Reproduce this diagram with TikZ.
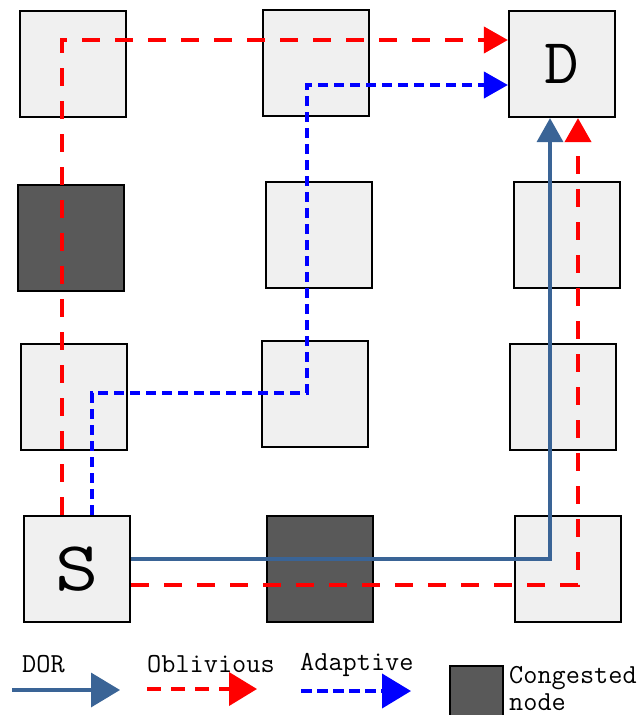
\documentclass[tikz,border=0pt]{standalone}
\usepackage{fontspec}
\usetikzlibrary{arrows.meta}
\definecolor{boxfill}{HTML}{F0F0F0}
\definecolor{congest}{HTML}{595959}
\definecolor{dorblue}{HTML}{3A6496}
\tikzset{
  x=1pt, y=-1pt,
  rbox/.style={draw=black, line width=2.2pt, fill=boxfill, minimum width=106pt, minimum height=106pt, inner sep=0pt},
  cbox/.style={rbox, fill=congest},
  dor/.style={draw=dorblue, line width=3.5pt, -{Triangle[width=26pt,length=24pt]}},
  obl/.style={draw=red, line width=4pt, dash pattern=on 18pt off 15pt, -{Triangle[width=26pt,length=24pt]}},
  ada/.style={draw=blue, line width=4pt, dash pattern=on 10pt off 6pt, -{Triangle[width=26pt,length=24pt]}},
  legtxt/.style={font=\ttfamily\fontsize{27.5}{30}\selectfont, inner sep=0pt, anchor=base west}
}
\begin{document}
\begin{tikzpicture}
\useasboundingbox (0,0) rectangle (640,715);
% row 1
\node[rbox] (n11) at (73,64) {};
\node[rbox] (n12) at (316,63) {};
\node[rbox] (D) at (562,64) {};
% row 2
\node[cbox] (n21) at (71,238) {};
\node[rbox] (n22) at (319,235) {};
\node[rbox] (n23) at (567,235) {};
% row 3
\node[rbox] (n31) at (74,397) {};
\node[rbox] (n32) at (315,394) {};
\node[rbox] (n33) at (563,397) {};
% row 4
\node[rbox] (S) at (77,569) {};
\node[cbox] (n42) at (320,569) {};
\node[rbox] (n43) at (568,569) {};
% labels
\node[inner sep=0pt] (Dl) at (D.center) {\ttfamily\fontsize{64}{64}\selectfont\scalebox{1.05}[1]{D}};
\node[inner sep=0pt] (Sl) at (S.center) {\ttfamily\fontsize{70}{70}\selectfont\scalebox{1.2}[1]{S}};
% routes
\coordinate (b1) at (307,393);
\draw[obl] (S.north -| 62,0) |- (D.west |- 0,40);
\draw[ada] (S.north -| 92,0) |- (b1) |- (D.west |- 0,85);
\draw[dor] (S.east |- 0,559) -| (D.south -| 550,0);
\draw[obl] (S.east |- 0,585) -| (D.south -| 578,0);
% legend
\node[legtxt] (tdor) at (22,672) {DOR};
\node[legtxt] (tobl) at (147,672) {Oblivious};
\node[legtxt] (tada) at (300,670) {Adaptive};
\coordinate (l1a) at (12,690); \coordinate (l1b) at (120,690);
\coordinate (l2a) at (147,689); \coordinate (l2b) at (257,689);
\coordinate (l3a) at (301,691); \coordinate (l3b) at (411,691);
\draw[dor, -{Triangle[width=34pt,length=29pt]}] (l1a) -- (l1b);
\draw[obl, dash pattern=on 14pt off 10pt, -{Triangle[width=33pt,length=28pt]}] (l2a) -- (l2b);
\draw[ada, dash pattern=on 11pt off 5pt, -{Triangle[width=34pt,length=29pt]}] (l3a) -- (l3b);
\node[cbox, minimum width=53pt, minimum height=60pt, anchor=north west] (lc) at (449,665) {};
\node[legtxt] (tc1) at (509,683) {Congested};
\node[legtxt] (tc2) at (509,710) {node};
\end{tikzpicture}
\end{document}
